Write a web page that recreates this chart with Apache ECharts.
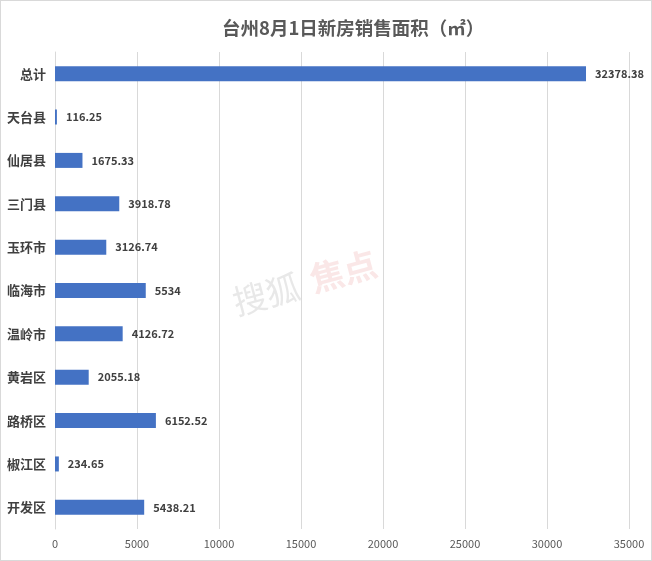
<!DOCTYPE html>
<html><head><meta charset="utf-8">
<script src="https://cdn.jsdelivr.net/npm/echarts@6/dist/echarts.min.js"></script>
<style>html,body{margin:0;padding:0;background:#fff}#c{position:absolute;left:0;top:0;width:650px;height:559px;border:1px solid #d9d9d9}</style>
</head><body><div id="c"></div>
<script>
const categories = ['总计','天台县','仙居县','三门县','玉环市','临海市','温岭市','黄岩区','路桥区','椒江区','开发区'];
const values = [32378.38,116.25,1675.33,3918.78,3126.74,5534,4126.72,2055.18,6152.52,234.65,5438.21];
const titleText = '台州8月1日新房销售面积（㎡）';
const xTicks = {min:0, max:35000, interval:5000};

const chart = echarts.init(document.getElementById('c'));
const font = '"Microsoft YaHei","Noto Sans CJK SC",sans-serif';
chart.setOption({
  animation:false,
  title:{text:titleText,left:216,top:13,textStyle:{fontSize:18.5,fontWeight:'bold',color:'#595959',fontFamily:font}},
  grid:{left:54,right:22,top:51,bottom:31,containLabel:false},
  xAxis:{type:'value',min:xTicks.min,max:xTicks.max,interval:xTicks.interval,
    axisLine:{show:false},axisTick:{show:false},
    splitLine:{lineStyle:{color:'#d9d9d9',width:1}},
    axisLabel:{color:'#595959',fontSize:11,fontFamily:font,margin:9,formatter:function(v){return String(v);}}},
  yAxis:{type:'category',data:categories,inverse:true,
    axisLine:{show:true,lineStyle:{color:'#d9d9d9'}},axisTick:{show:false},
    axisLabel:{color:'#404040',fontSize:13,fontWeight:'bold',fontFamily:font,margin:9}},
  series:[{type:'bar',data:values,barWidth:15,itemStyle:{color:'#4472c4'},
    label:{show:true,position:'right',distance:9,color:'#404040',fontSize:11,fontWeight:'bold',fontFamily:font,formatter:function(p){return String(p.value);}}}],
  graphic:[
    {type:'text',left:228,top:268,rotation:0.26,style:{text:'搜狐',fontSize:34,fill:'rgba(180,180,180,0.3)',fontFamily:font}},
    {type:'text',left:305,top:245,rotation:0.26,style:{text:'焦点',fontSize:34,fontWeight:'bold',fill:'rgba(230,120,120,0.18)',fontFamily:font}}
  ]
});
</script></body></html>
